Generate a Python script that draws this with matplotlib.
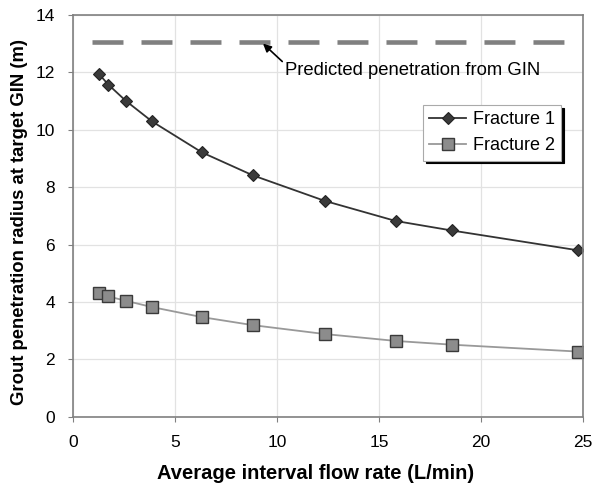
import numpy as np
import matplotlib
matplotlib.use("Agg")
import matplotlib.pyplot as plt

plt.rcParams["font.family"] = ["Liberation Sans", "DejaVu Sans"]

flow = [1.26, 1.72, 2.57, 3.86, 6.31, 8.81, 12.34, 15.82, 18.56, 24.75]
frac1 = [11.94, 11.57, 11.01, 10.29, 9.21, 8.41, 7.52, 6.82, 6.49, 5.80]
frac2 = [4.31, 4.19, 4.04, 3.82, 3.47, 3.19, 2.88, 2.64, 2.51, 2.27]
gin_x = [0.9, 24.1]
gin_y = [13.05, 13.05]

fig = plt.figure(figsize=(6.02, 4.86), dpi=100)
ax = fig.add_axes([0.1218, 0.1426, 0.8462, 0.8267])

ax.plot(gin_x, gin_y, color="#808080", lw=3.3, dashes=(6.76, 3.93), solid_capstyle="butt",
        dash_capstyle="butt")
ax.plot(flow, frac1, color="#333333", lw=1.3, marker="D", ms=6.5,
        mfc="#3a3a3a", mec="#222222", mew=0.8, label="Fracture 1")
ax.plot(flow, frac2, color="#999999", lw=1.3, marker="s", ms=8,
        mfc="#8c8c8c", mec="#3a3a3a", mew=1.0, label="Fracture 2")

ax.annotate("Predicted penetration from GIN", xy=(9.31, 13.0), xytext=(10.39, 12.05),
            fontsize=13.3, va="center", ha="left",
            arrowprops=dict(arrowstyle="-|>", color="black", lw=1.2,
                            shrinkA=0, shrinkB=0, mutation_scale=12,
                            relpos=(0, 0.9)))

ax.set_xlim(0, 25)
ax.set_ylim(0, 14)
ax.set_xticks(np.arange(0, 26, 5))
ax.set_yticks(np.arange(0, 15, 2))
ax.grid(True, color="#e2e2e2", lw=0.9)
ax.set_axisbelow(True)
for s in ax.spines.values():
    s.set_color("#808080")
    s.set_linewidth(1.2)
ax.tick_params(labelsize=12.5, length=3.6, color="#808080", direction="out", pad=9.5)

ax.set_xlabel("Average interval flow rate (L/min)", fontsize=14.5, fontweight="bold")
ax.set_ylabel("Grout penetration radius at target GIN (m)", fontsize=13.3, fontweight="bold")
ax.xaxis.set_label_coords(0.476, -0.118)
ax.yaxis.set_label_coords(-0.089, 0.4846)

leg = ax.legend(loc="upper right", bbox_to_anchor=(0.9576, 0.7758), borderaxespad=0,
                fontsize=13, frameon=True, fancybox=False,
                shadow={"color": "black", "alpha": 1},
                handlelength=2.0, borderpad=0.35, labelspacing=0.5, handletextpad=0.4)
leg.get_frame().set_edgecolor("#aaaaaa")
leg.get_frame().set_linewidth(0.8)

fig.savefig("out.png", dpi=100)
